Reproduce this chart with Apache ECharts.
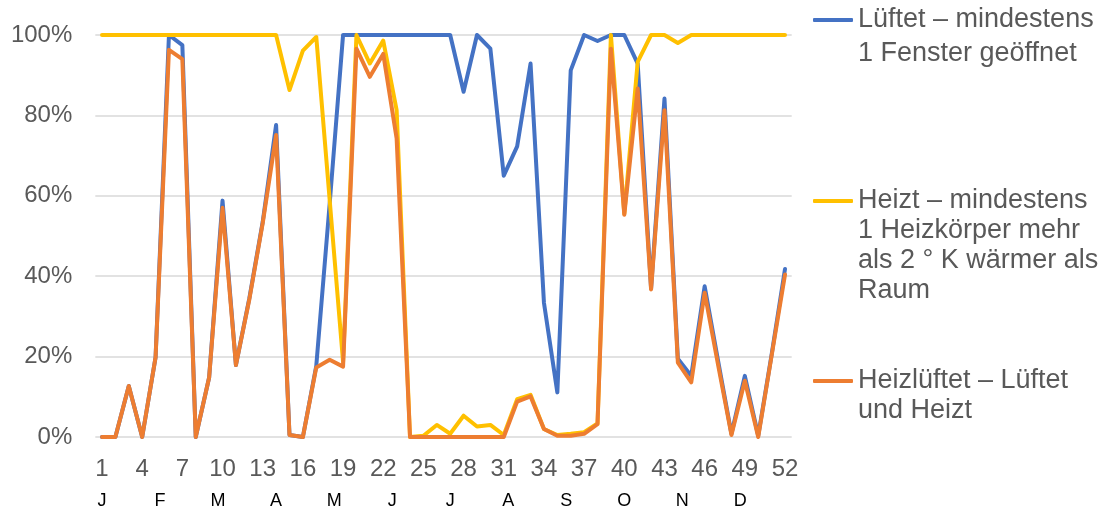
<!DOCTYPE html>
<html><head><meta charset="utf-8">
<script src="https://cdn.jsdelivr.net/npm/echarts@6/dist/echarts.min.js"></script>
<style>html,body{margin:0;padding:0;background:#fff}#c{width:1104px;height:510px}</style>
</head><body><div id="c"></div>
<script>
// ---- data ----
const weeks = [1,2,3,4,5,6,7,8,9,10,11,12,13,14,15,16,17,18,19,20,21,22,23,24,25,26,27,28,29,30,31,32,33,34,35,36,37,38,39,40,41,42,43,44,45,46,47,48,49,50,51,52];
const weekTickLabels = [1,4,7,10,13,16,19,22,25,28,31,34,37,40,43,46,49,52];
const monthLabels = ['J','F','M','A','M','J','J','A','S','O','N','D'];
const seriesNames = [
  'Lüftet – mindestens\n1 Fenster geöffnet',
  'Heizt – mindestens\n1 Heizkörper mehr\nals 2 ° K wärmer als\nRaum',
  'Heizlüftet – Lüftet\nund Heizt'
];
const lueftet = [0,0,12.7,0,19.8,100,97.5,0,14.8,58.8,17.9,34.5,53.5,77.6,0.5,0,17.7,58,100,100,100,100,100,100,100,100,100,85.9,100,96.6,65,72.3,92.9,33.4,11.1,91.2,100,98.5,100,100,92.9,37,84.2,19.5,15.2,37.5,19,0.8,15.2,0.3,20.5,41.8];
const heizt = [100,100,100,100,100,100,100,100,100,100,100,100,100,100,86.3,96.1,99.5,59,18.7,100,92.9,98.6,81.3,0,0.3,3,0.8,5.3,2.6,3,0.5,9.4,10.5,2,0.5,0.8,1.2,3.4,100,55.5,93.3,100,100,98,100,100,100,100,100,100,100,100];
const heizlueftet = [0,0,12.7,0,19.8,96.3,94,0,14.8,57,17.9,34.2,53.2,75.1,0.5,0,17.3,19.2,17.5,96.6,89.6,95.3,74.3,0,0,0,0,0,0,0,0,8.8,10.1,2,0.3,0.3,0.8,3.2,96.6,55.3,86.7,36.7,81.3,18.5,13.6,35.9,18,0.5,14,0,20.2,40.4];
const colors = ['#4472C4','#FFC000','#ED7D31'];

// ---- chart ----
const FONT = '"Liberation Sans", Arial, sans-serif';
const weekMin = 0.5, weekMax = 52.5;
const toMonth = w => (w - 1) * 12 / 52;
const chart = echarts.init(document.getElementById('c'), null, {renderer: 'canvas'});
const values = [lueftet, heizt, heizlueftet];
// icon centre (px) and line height for each legend block
const legendCfg = [
  {c: 20, lh: 34},
  {c: 201, lh: 30},
  {c: 381, lh: 30}
];
chart.setOption({
  animation: false,
  color: colors,
  textStyle: {fontFamily: FONT},
  grid: {left: 95.3, right: 312.3, top: 35, bottom: 72, containLabel: false},
  legend: seriesNames.map((n, i) => {
    const lines = n.split('\n').length;
    const cfg = legendCfg[i];
    return {
      data: [n], left: 813, top: cfg.c - (2 * lines - 1) * cfg.lh / 2, orient: 'vertical', padding: 0,
      icon: 'roundRect', itemWidth: 40, itemHeight: 4,
      formatter: name => '\n'.repeat(lines - 1) + name,
      textStyle: {fontFamily: FONT, fontSize: 27, color: '#595959', lineHeight: cfg.lh}
    };
  }),
  xAxis: [{
    type: 'value', min: weekMin, max: weekMax,
    axisLine: {show: false}, axisTick: {show: false}, splitLine: {show: false},
    axisLabel: {customValues: weekTickLabels, fontSize: 24, color: '#595959', margin: 20, fontFamily: FONT}
  }, {
    type: 'value', position: 'bottom', min: toMonth(weekMin), max: toMonth(weekMax),
    axisLine: {show: false}, axisTick: {show: false}, splitLine: {show: false},
    axisLabel: {customValues: monthLabels.map((m, i) => i), formatter: v => monthLabels[Math.round(v)] || '',
      fontSize: 18, color: '#000', margin: 55, fontFamily: FONT}
  }],
  yAxis: {
    type: 'value', min: 0, max: 100, interval: 20,
    axisLine: {show: false}, axisTick: {show: false},
    splitLine: {lineStyle: {color: '#d9d9d9', width: 1.5}},
    axisLabel: {formatter: '{value}%', fontSize: 24, color: '#595959', margin: 23, fontFamily: FONT}
  },
  series: seriesNames.map((n, i) => ({
    name: n, type: 'line', xAxisIndex: 0, symbol: 'none', smooth: false,
    lineStyle: {width: 4, color: colors[i], join: 'round', cap: 'round'},
    itemStyle: {color: colors[i]},
    data: weeks.map((w, k) => [w, values[i][k]])
  }))
});
</script></body></html>
